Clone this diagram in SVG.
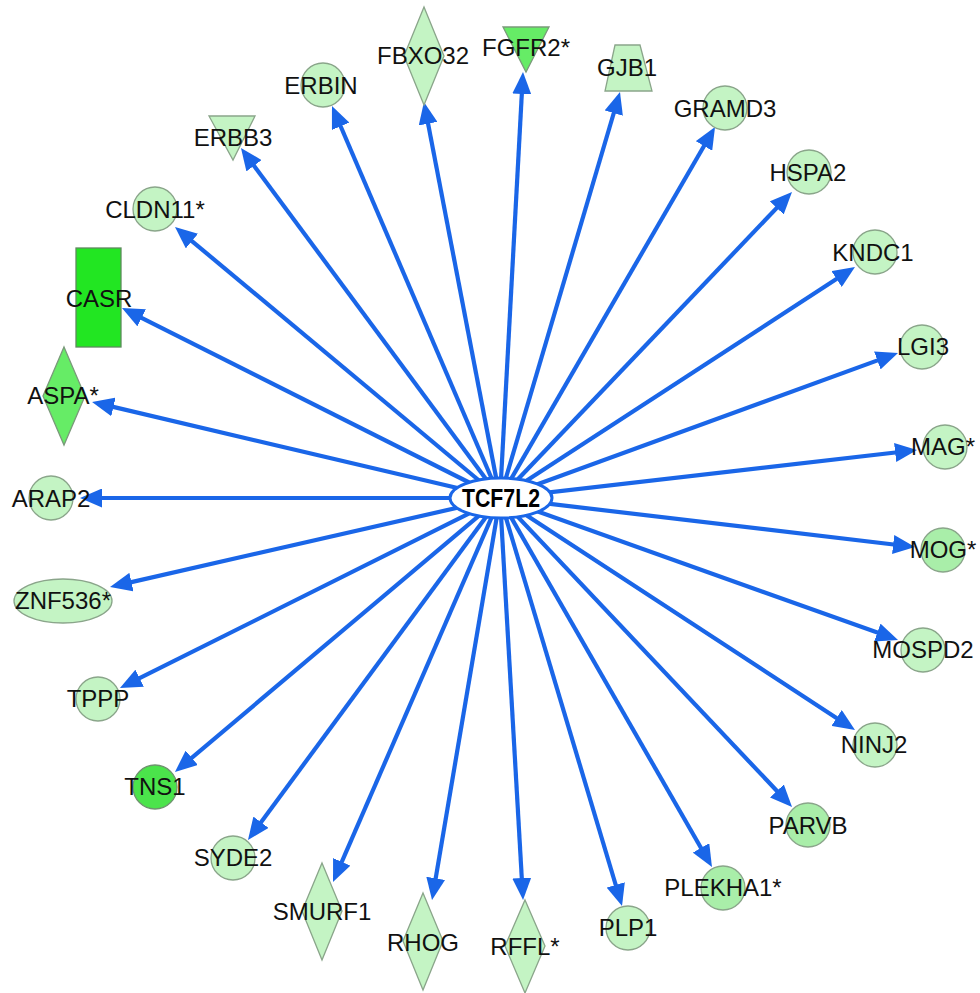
<svg xmlns="http://www.w3.org/2000/svg" width="980" height="993" viewBox="0 0 980 993">
<style>
.bg{fill:#ffffff}
.e{stroke:#1a66e8;stroke-width:4.2;fill:none;marker-end:url(#ah)}
.n{stroke:#8aa58a;stroke-width:1.3;fill:#c4f4c4}
.n2{stroke:#8aa58a;stroke-width:1.3;fill:#a9eea9}
.m{stroke:#7a9a7a;stroke-width:1.3;fill:#66ec66}
.d{stroke:#6f946f;stroke-width:1.3;fill:#4be44b}
.b{stroke:#5f8a5f;stroke-width:1.3;fill:#22e622}
text{font-family:"Liberation Sans",Arial,sans-serif;font-size:24px;fill:#111;text-anchor:middle}
.c{font-weight:bold;font-size:25px;fill:#000}
</style>
<defs>
<marker id="ah" markerUnits="userSpaceOnUse" markerWidth="22" markerHeight="19" refX="9" refY="9.5" orient="auto">
<path d="M0,0 L22,9.5 L0,19 z" fill="#1a66e8"/>
</marker>
</defs>
<rect class="bg" x="0" y="0" width="980" height="993"/>
<g id="edges">
<line class="e" x1="500" y1="498" x2="93" y2="498"/>
<line class="e" x1="500" y1="498" x2="104.7" y2="404.9"/>
<line class="e" x1="500" y1="498" x2="133.6" y2="313.8"/>
<line class="e" x1="500" y1="498" x2="185.0" y2="235.3"/>
<line class="e" x1="500" y1="498" x2="248.7" y2="158.5"/>
<line class="e" x1="500" y1="498" x2="337.1" y2="118.0"/>
<line class="e" x1="500" y1="498" x2="426.4" y2="114.8"/>
<line class="e" x1="500" y1="498" x2="522.3" y2="85.0"/>
<line class="e" x1="500" y1="498" x2="616.3" y2="104.5"/>
<line class="e" x1="500" y1="498" x2="708.5" y2="138.2"/>
<line class="e" x1="500" y1="498" x2="783.0" y2="201.4"/>
<line class="e" x1="500" y1="498" x2="844.1" y2="274.1"/>
<line class="e" x1="500" y1="498" x2="885.8" y2="357.4"/>
<line class="e" x1="500" y1="498" x2="904.1" y2="451.5"/>
<line class="e" x1="500" y1="498" x2="902.1" y2="545.5"/>
<line class="e" x1="500" y1="498" x2="885.8" y2="635.6"/>
<line class="e" x1="500" y1="498" x2="844.1" y2="722.9"/>
<line class="e" x1="500" y1="498" x2="783.1" y2="797.5"/>
<line class="e" x1="500" y1="498" x2="705.5" y2="855.7"/>
<line class="e" x1="500" y1="498" x2="618.3" y2="893.5"/>
<line class="e" x1="500" y1="498" x2="522.3" y2="887.0"/>
<line class="e" x1="500" y1="498" x2="434.2" y2="887.2"/>
<line class="e" x1="500" y1="498" x2="338.2" y2="870.1"/>
<line class="e" x1="500" y1="498" x2="255.7" y2="829.5"/>
<line class="e" x1="500" y1="498" x2="184.9" y2="763.6"/>
<line class="e" x1="500" y1="498" x2="131.6" y2="682.2"/>
<line class="e" x1="500" y1="498" x2="122.7" y2="584.1"/>
</g>
<g id="TCF7L2"><ellipse cx="501" cy="498" rx="51" ry="20" fill="#fff" stroke="#1a66e8" stroke-width="3"/><text class="c" x="501" y="507" textLength="78" lengthAdjust="spacingAndGlyphs">TCF7L2</text></g>
<g id="ARAP2"><circle class="n" cx="51" cy="498" r="22"/><text x="51" y="507">ARAP2</text></g>
<g id="ASPA"><polygon class="m" points="64,347 85,396 64,445 43,396"/><text x="63" y="404">ASPA*</text></g>
<g id="CASR"><rect class="b" x="76" y="248" width="45" height="99"/><text x="99" y="307">CASR</text></g>
<g id="CLDN11"><circle class="n" cx="155" cy="209" r="22"/><text x="155" y="218">CLDN11*</text></g>
<g id="ERBB3"><polygon class="n" points="209,116 255,116 233,160"/><text x="233" y="146">ERBB3</text></g>
<g id="ERBIN"><circle class="n" cx="323" cy="85" r="22"/><text x="321" y="94">ERBIN</text></g>
<g id="FBXO32"><polygon class="n" points="424,7 444,56 424,105 404,56"/><text x="423" y="64">FBXO32</text></g>
<g id="FGFR2"><polygon class="m" points="503,27 549,27 526,72"/><text x="526" y="56">FGFR2*</text></g>
<g id="GJB1"><polygon class="n" points="615,45 640,45 652,91 605,91"/><text x="627" y="76">GJB1</text></g>
<g id="GRAMD3"><circle class="n" cx="725" cy="108" r="22"/><text x="725" y="117">GRAMD3</text></g>
<g id="HSPA2"><circle class="n" cx="809" cy="172" r="22"/><text x="808" y="181">HSPA2</text></g>
<g id="KNDC1"><circle class="n" cx="875" cy="252" r="22"/><text x="873" y="261">KNDC1</text></g>
<g id="LGI3"><circle class="n" cx="922" cy="347" r="22"/><text x="923" y="355">LGI3</text></g>
<g id="MAG"><circle class="n" cx="945" cy="447" r="22"/><text x="943" y="455">MAG*</text></g>
<g id="MOG"><circle class="n2" cx="943" cy="550" r="22"/><text x="943" y="558">MOG*</text></g>
<g id="MOSPD2"><circle class="n" cx="923" cy="650" r="22"/><text x="923" y="658">MOSPD2</text></g>
<g id="NINJ2"><circle class="n" cx="875" cy="745" r="22"/><text x="874" y="753">NINJ2</text></g>
<g id="PARVB"><circle class="n2" cx="808" cy="825" r="22"/><text x="808" y="834">PARVB</text></g>
<g id="PLEKHA1"><circle class="n2" cx="723" cy="888" r="22"/><text x="723" y="896">PLEKHA1*</text></g>
<g id="PLP1"><circle class="n" cx="628" cy="928" r="22"/><text x="628" y="936">PLP1</text></g>
<g id="RFFL"><polygon class="n" points="525,900 545,946 525,993 505,946"/><text x="525" y="955">RFFL*</text></g>
<g id="RHOG"><polygon class="n" points="423,893 443,941 423,990 403,941"/><text x="423" y="951">RHOG</text></g>
<g id="SMURF1"><polygon class="n" points="322,863 342,911 322,960 302,911"/><text x="322" y="920">SMURF1</text></g>
<g id="SYDE2"><circle class="n" cx="233" cy="858" r="22"/><text x="233" y="866">SYDE2</text></g>
<g id="TNS1"><circle class="d" cx="155" cy="787" r="22"/><text x="155" y="795">TNS1</text></g>
<g id="TPPP"><circle class="n" cx="98" cy="699" r="22"/><text x="98" y="707">TPPP</text></g>
<g id="ZNF536"><ellipse class="n" cx="63" cy="601" rx="49" ry="22"/><text x="63" y="609">ZNF536*</text></g>
</svg>
